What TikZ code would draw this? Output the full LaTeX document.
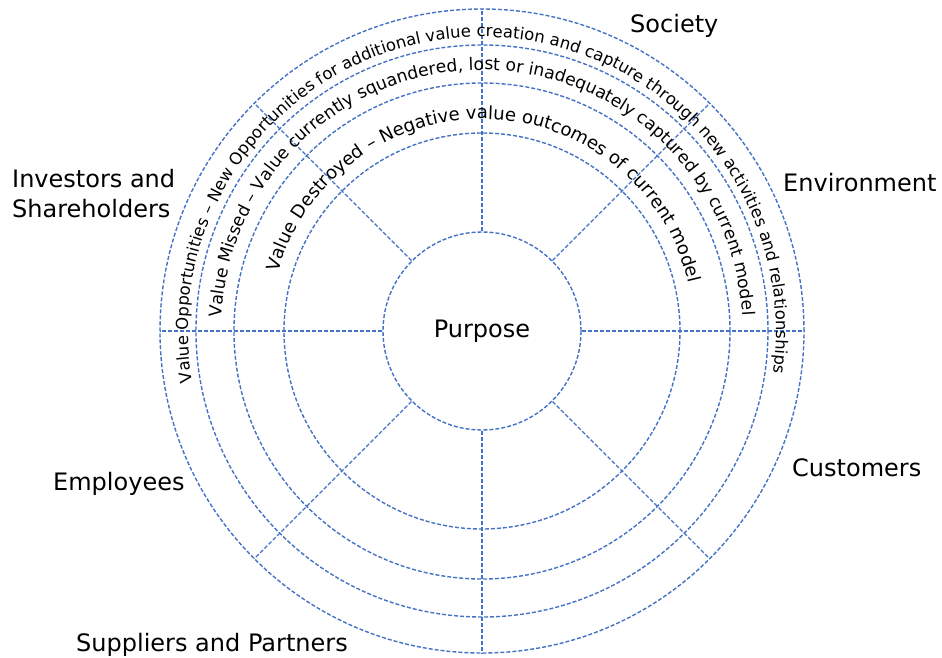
\documentclass[tikz,border=0pt]{standalone}
\usepackage{fontspec}
\setmainfont{DejaVu Sans}
\usetikzlibrary{decorations.text}
\definecolor{ringblue}{RGB}{68,114,196}
\begin{document}
\begin{tikzpicture}[x=1pt,y=1pt,
  ring/.style={draw=ringblue, line width=1.4pt, dash pattern=on 4pt off 2pt},
  biglabel/.style={font=\fontsize{24}{30}\selectfont, inner sep=0pt, anchor=base west},
  arctext/.style={decorate, decoration={text along path, text={#1}}}
]
\useasboundingbox (-482,-326) rectangle (460,331);
\foreach \r in {198,248,286,322} \draw[ring] (0,0) circle[radius=\r];
\node[ring, circle, minimum size=198pt, inner sep=0pt, font=\fontsize{24}{28}\selectfont] (purpose) at (0,0) {\raisebox{-3pt}{Purpose}};
\foreach \a in {0,45,...,315} \draw[ring] (purpose.\a) -- (\a:322);

\path[arctext={|\fontsize{16.5}{20}\selectfont|Value Opportunities – New Opportunities for additional value creation and capture through new activities and relationships}] (190:294) arc[start angle=190, end angle=-25, radius=294];
\path[arctext={|\fontsize{17.2}{21}\selectfont|Value Missed – Value currently squandered, lost or inadequately captured by current model}] (177:261) arc[start angle=177, end angle=-20, radius=261];
\path[arctext={|\fontsize{18.1}{21}\selectfont|Value Destroyed – Negative value outcomes of current model}] (164:212) arc[start angle=164, end angle=-20, radius=212];

\node[biglabel] (society) at (148,299) {Society};
\node[biglabel] (environment) at (301,140) {Environment};
\node[biglabel, anchor=north west, align=left] (investors) at (-470,162) {Investors and\\Shareholders};
\node[biglabel] (employees) at (-429,-159) {Employees};
\node[biglabel] (customers) at (310,-145) {Customers};
\node[biglabel] (suppliers) at (-406,-320) {Suppliers and Partners};
\end{tikzpicture}
\end{document}
